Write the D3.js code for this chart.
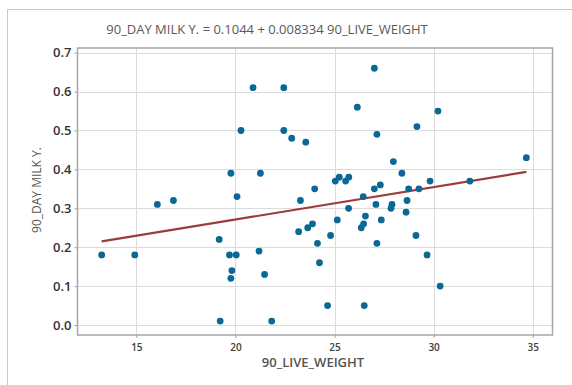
<!DOCTYPE html>
<html>
<head>
<meta charset="utf-8">
<script src="https://cdn.jsdelivr.net/npm/d3@7"></script>
<style>
  body { margin: 0; background: #fff; }
  svg { display: block; font-family: "Open Sans", "Noto Sans", sans-serif; }
</style>
</head>
<body>
<svg id="chart" width="572" height="385"></svg>
<script>
const liveWeight = [
  13.25, 14.92, 16.06, 16.87, 19.18, 19.70, 20.04, 19.82, 19.77, 19.23,
  19.77, 20.08, 20.28, 20.89, 22.44, 22.44, 22.84, 23.55, 21.26, 23.28,
  24.00, 23.19, 23.65, 23.89, 24.14, 24.24, 21.19, 21.47, 21.83, 24.65,
  24.80, 25.14, 25.04, 25.24, 25.56, 25.72, 25.71, 26.15, 27.01, 27.14,
  26.45, 26.56, 26.47, 26.35, 26.50, 27.01, 27.31, 27.09, 27.36, 27.14,
  27.97, 28.40, 27.90, 27.85, 28.61, 28.66, 28.74, 29.26, 29.82, 29.16,
  30.22, 29.11, 29.67, 30.33, 31.83, 34.68
];
const milkYield = [
  0.18, 0.18, 0.31, 0.32, 0.22, 0.18, 0.18, 0.14, 0.12, 0.01,
  0.39, 0.33, 0.50, 0.61, 0.61, 0.50, 0.48, 0.47, 0.39, 0.32,
  0.35, 0.24, 0.25, 0.26, 0.21, 0.16, 0.19, 0.13, 0.01, 0.05,
  0.23, 0.27, 0.37, 0.38, 0.37, 0.38, 0.30, 0.56, 0.66, 0.49,
  0.33, 0.28, 0.26, 0.25, 0.05, 0.35, 0.36, 0.31, 0.27, 0.21,
  0.42, 0.39, 0.31, 0.30, 0.29, 0.32, 0.35, 0.35, 0.37, 0.51,
  0.55, 0.23, 0.18, 0.10, 0.37, 0.43
];
const intercept = 0.1044;
const slope = 0.008334;
const xTicks = [15, 20, 25, 30, 35];
const yTicks = [0, 0.1, 0.2, 0.3, 0.4, 0.5, 0.6, 0.7];

const svg = d3.select('#chart');
const plotLeft = 77.5, plotRight = 552.5, plotTop = 48, plotBottom = 335;

const x = d3.scaleLinear().domain([12.03, 36]).range([plotLeft, plotRight]);
const y = d3.scaleLinear().domain([-0.0257, 0.712]).range([plotBottom, plotTop]);

// outer frame (only top and left visible)
svg.append('line').attr('x1', 7.5).attr('x2', 572).attr('y1', 9.5).attr('y2', 9.5)
  .attr('stroke', '#c8c8c8');
svg.append('line').attr('x1', 7.5).attr('x2', 7.5).attr('y1', 9.5).attr('y2', 385)
  .attr('stroke', '#c8c8c8');

svg.append('text')
  .attr('x', 267).attr('y', 34)
  .attr('text-anchor', 'middle')
  .attr('font-size', 13).attr('fill', '#595959')
  .text('90_DAY MILK Y. = 0.1044 + 0.008334 90_LIVE_WEIGHT');

// grid
const grid = svg.append('g').attr('stroke', '#dcdcdc').attr('stroke-width', 1);
grid.selectAll('line.gx').data(xTicks).enter().append('line')
  .attr('x1', d => Math.round(x(d)) + 0.5).attr('x2', d => Math.round(x(d)) + 0.5)
  .attr('y1', plotTop).attr('y2', plotBottom);
grid.selectAll('line.gy').data(yTicks).enter().append('line')
  .attr('x1', plotLeft).attr('x2', plotRight)
  .attr('y1', d => Math.round(y(d)) + 0.5).attr('y2', d => Math.round(y(d)) + 0.5);

// axes
const xAxis = svg.append('g')
  .attr('transform', `translate(0,${plotBottom})`)
  .call(d3.axisBottom(x).tickValues(xTicks).tickSize(3).tickPadding(6).tickFormat(d3.format('d')));
xAxis.select('.domain').remove();
xAxis.selectAll('line').attr('stroke', '#a0a0a0');
xAxis.selectAll('text').attr('font-size', 10).attr('font-weight', 600).attr('fill', '#404040')
  .attr('font-family', '"Open Sans", sans-serif');

const yAxis = svg.append('g')
  .attr('transform', `translate(${plotLeft},0)`)
  .call(d3.axisLeft(y).tickValues(yTicks).tickSize(3).tickPadding(3).tickFormat(d3.format('.1f')));
yAxis.select('.domain').remove();
yAxis.selectAll('line').attr('stroke', '#a0a0a0');
yAxis.selectAll('text').attr('font-size', 13).attr('font-weight', 600).attr('fill', '#333')
  .attr('font-family', '"Open Sans", sans-serif');

// plot border
svg.append('rect')
  .attr('x', plotLeft).attr('y', plotTop)
  .attr('width', plotRight - plotLeft).attr('height', plotBottom - plotTop)
  .attr('fill', 'none').attr('stroke', '#a6a6a6').attr('stroke-width', 1.5);

// regression line
const xr = d3.extent(liveWeight);
svg.append('line')
  .attr('x1', x(xr[0])).attr('y1', y(intercept + slope * xr[0]))
  .attr('x2', x(xr[1])).attr('y2', y(intercept + slope * xr[1]))
  .attr('stroke', '#9c3b3b').attr('stroke-width', 2.2);

// points
svg.append('g').selectAll('circle')
  .data(liveWeight.map((w, i) => [w, milkYield[i]]))
  .enter().append('circle')
  .attr('cx', d => x(d[0])).attr('cy', d => y(d[1]))
  .attr('r', 3.4)
  .attr('fill', '#0b6794');

svg.append('text')
  .attr('x', 313).attr('y', 367)
  .attr('text-anchor', 'middle')
  .attr('font-size', 13).attr('font-weight', 600).attr('fill', '#555')
  .text('90_LIVE_WEIGHT');

svg.append('text')
  .attr('transform', 'translate(41,190) rotate(-90)')
  .attr('text-anchor', 'middle')
  .attr('font-size', 12).attr('fill', '#555')
  .text('90_DAY MILK Y.');
</script>
</body>
</html>
